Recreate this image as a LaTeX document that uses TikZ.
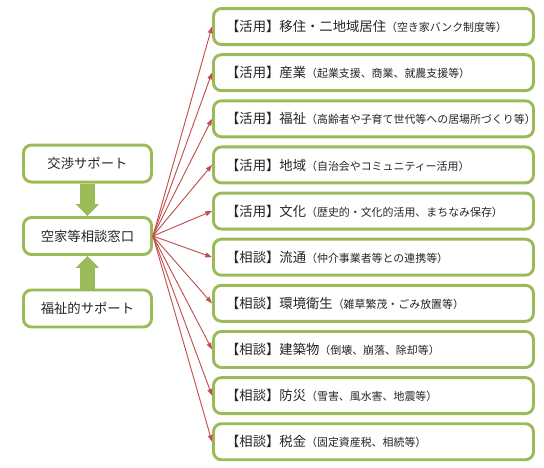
\documentclass[tikz,border=0pt]{standalone}
\usepackage{fontspec}
\setmainfont{Noto Sans CJK JP}
\usepackage{xcolor}
\usetikzlibrary{arrows.meta,positioning}
\definecolor{leaf}{HTML}{9BBB59}
\definecolor{brick}{HTML}{C0504D}
\definecolor{ink}{HTML}{262626}
\newcommand{\aside}[1]{{\fontsize{8.2pt}{9pt}\selectfont #1}}

\begin{document}
\begin{tikzpicture}[
  usebox/.style={
    draw=leaf,
    fill=white,
    rounded corners=6pt,
    line width=2.2pt,
    minimum height=27pt,
    text width=221pt,
    align=left,
    inner xsep=9.5pt,
    inner ysep=2pt,
    text=ink,
    font=\fontsize{10pt}{12pt}\selectfont
  },
  hubbox/.style={
    draw=leaf,
    fill=white,
    rounded corners=6pt,
    line width=2.2pt,
    minimum width=96pt,
    minimum height=27.75pt,
    align=center,
    text=ink,
    font=\fontsize{10pt}{12pt}\selectfont
  },
  link/.style={
    -{Triangle[length=5pt,width=3.6pt]},
    draw=brick,
    line width=0.7pt
  },
  lift/.style={
    -{Triangle[length=9pt 0 0,width=17pt 0 0]},
    draw=leaf,
    line width=11pt
  }
]
\useasboundingbox (0,0) rectangle (408pt,-351pt);

\node[usebox] (ijuu) at (280.1pt,-19.9pt) {%
  【活用】移住・二地域居住\aside{（空き家バンク制度等）}};
\node[usebox, below=5.4pt of ijuu] (sangyo) {%
  【活用】産業\aside{（起業支援、商業、就農支援等）}};
\node[usebox, below=5.4pt of sangyo] (fukushi) {%
  【活用】福祉\aside{（高齢者や子育て世代等への居場所づくり等）}};
\node[usebox, below=5.4pt of fukushi] (chiiki) {%
  【活用】地域\aside{（自治会やコミュニティー活用）}};
\node[usebox, below=5.4pt of chiiki] (bunka) {%
  【活用】文化\aside{（歴史的・文化的活用、まちなみ保存）}};
\node[usebox, below=5.4pt of bunka] (ryutsu) {%
  【相談】流通\aside{（仲介事業者等との連携等）}};
\node[usebox, below=5.4pt of ryutsu] (kankyo) {%
  【相談】環境衛生\aside{（雑草繁茂・ごみ放置等）}};
\node[usebox, below=5.4pt of kankyo] (kenchiku) {%
  【相談】建築物\aside{（倒壊、崩落、除却等）}};
\node[usebox, below=5.4pt of kenchiku] (bousai) {%
  【相談】防災\aside{（雪害、風水害、地震等）}};
\node[usebox, below=5.4pt of bousai] (zeikin) {%
  【相談】税金\aside{（固定資産税、相続等）}};

\node[hubbox] (madoguchi) at (65.6pt,-177pt) {空家等相談窓口};
\node[hubbox, above=24.4pt of madoguchi] (kosho) {交渉サポート};
\node[hubbox, below=24.4pt of madoguchi] (fukushishien) {福祉的サポート};

\draw[lift] (kosho) -- (madoguchi);
\draw[lift] (fukushishien) -- (madoguchi);

\draw[link] (madoguchi.east) -- (ijuu.west);
\draw[link] (madoguchi.east) -- (sangyo.west);
\draw[link] (madoguchi.east) -- (fukushi.west);
\draw[link] (madoguchi.east) -- (chiiki.west);
\draw[link] (madoguchi.east) -- (bunka.west);
\draw[link] (madoguchi.east) -- (ryutsu.west);
\draw[link] (madoguchi.east) -- (kankyo.west);
\draw[link] (madoguchi.east) -- (kenchiku.west);
\draw[link] (madoguchi.east) -- (bousai.west);
\draw[link] (madoguchi.east) -- (zeikin.west);
\end{tikzpicture}
\end{document}
